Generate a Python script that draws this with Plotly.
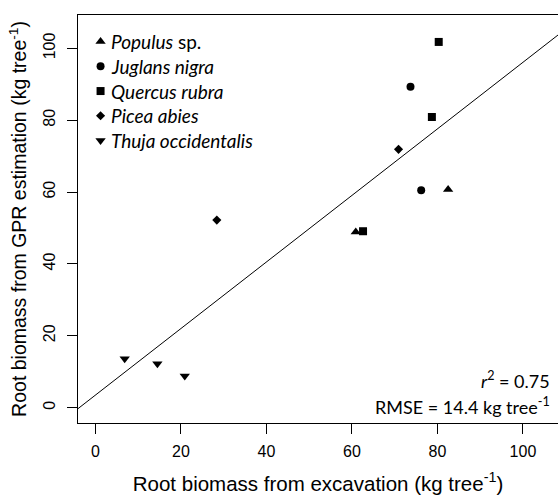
import numpy as np
import plotly.graph_objects as go

# ---- data ----
species = ["Populus", "Juglans nigra", "Quercus rubra", "Picea abies", "Thuja occidentalis"]
legend_labels = ["<i>Populus</i> sp.", "<i>Juglans nigra</i>", "<i>Quercus rubra</i>",
                 "<i>Picea abies</i>", "<i>Thuja occidentalis</i>"]
populus_x = [60.9, 82.5]
populus_y = [48.9, 60.7]
juglans_x = [73.7, 76.2]
juglans_y = [89.3, 60.5]
quercus_x = [80.3, 78.7, 62.6]
quercus_y = [101.8, 80.9, 49.1]
picea_x = [28.4, 70.9]
picea_y = [52.2, 71.9]
thuja_x = [6.85, 14.5, 20.9]
thuja_y = [13.6, 12.2, 8.8]
tick_vals = [0, 20, 40, 60, 80, 100]
r2_text = "0.75"
rmse_text = "14.4"

series_x = [populus_x, juglans_x, quercus_x, picea_x, thuja_x]
series_y = [populus_y, juglans_y, quercus_y, picea_y, thuja_y]
symbols = ["triangle-up", "circle", "square", "diamond", "triangle-down"]
sizes = [9, 8, 8, 7, 9]

fig = go.Figure()

# regression line through all points
all_x = np.concatenate([np.array(v) for v in series_x])
all_y = np.concatenate([np.array(v) for v in series_y])
slope, intercept = np.polyfit(all_x, all_y, 1)
line_x = np.array([-20.0, 130.0])
fig.add_trace(go.Scatter(x=line_x, y=intercept + slope * line_x, mode="lines",
                         line=dict(color="black", width=1), showlegend=False,
                         hoverinfo="skip"))

for name, xs, ys, sym, sz in zip(species, series_x, series_y, symbols, sizes):
    fig.add_trace(go.Scatter(x=xs, y=ys, mode="markers", name=name,
                             marker=dict(symbol=sym, size=sz, color="black"),
                             showlegend=False))

# hand-placed legend (overlay axes in paper-like units)
leg_x0 = 0.047
leg_tx = 0.064
leg_y0 = 0.935
leg_dy = 0.0607
for i, (lab, sym, sz) in enumerate(zip(legend_labels, symbols, sizes)):
    yy = leg_y0 - i * leg_dy
    fig.add_trace(go.Scatter(x=[leg_x0], y=[yy], mode="markers", xaxis="x2", yaxis="y2",
                             marker=dict(symbol=sym, size=sz, color="black"),
                             showlegend=False, hoverinfo="skip"))
    fig.add_annotation(x=leg_tx, y=yy, xref="paper", yref="paper", text=lab,
                       showarrow=False, xanchor="left", yanchor="middle",
                       font=dict(family="Lato", size=19, color="black"))

fig.add_annotation(x=0.987, y=0.106, xref="paper", yref="paper",
                   text="<i>r</i><sup>2</sup> = " + r2_text, showarrow=False,
                   xanchor="right", yanchor="middle",
                   font=dict(family="Lato", size=18, color="black"))
fig.add_annotation(x=0.987, y=0.041, xref="paper", yref="paper",
                   text="RMSE = " + rmse_text + " kg tree<sup>-1</sup>", showarrow=False,
                   xanchor="right", yanchor="middle",
                   font=dict(family="Lato", size=18, color="black"))

axis_common = dict(showline=True, linecolor="black", linewidth=1, mirror=True,
                   ticks="outside", ticklen=10, tickcolor="black", tickwidth=1,
                   showgrid=False, zeroline=False, tickvals=tick_vals,
                   tickfont=dict(family="Liberation Sans, Arial", size=16, color="black"))

fig.update_layout(
    width=558, height=497,
    margin=dict(l=78, r=0, t=15, b=74),
    plot_bgcolor="white", paper_bgcolor="white",
    xaxis=dict(range=[-4.07, 108.2], **axis_common,
               ticklabelstandoff=4,
               title=dict(text="Root biomass from excavation (kg tree<sup>-1</sup>)",
                          font=dict(family="Liberation Sans, Arial", size=20.5, color="black"),
                          standoff=17)),
    yaxis=dict(range=[-4.29, 109.3], **axis_common, tickangle=-90,
               ticklabelstandoff=6,
               title=dict(text="Root biomass from GPR estimation (kg tree<sup>-1</sup>)",
                          font=dict(family="Liberation Sans, Arial", size=19.5, color="black"),
                          standoff=8)),
    xaxis2=dict(overlaying="x", range=[0, 1], visible=False),
    yaxis2=dict(overlaying="y", range=[0, 1], visible=False),
    showlegend=False,
)

fig.write_html("out.html", config={"displayModeBar": False},
               post_script="document.body.style.margin='0';document.body.style.overflow='hidden';")
